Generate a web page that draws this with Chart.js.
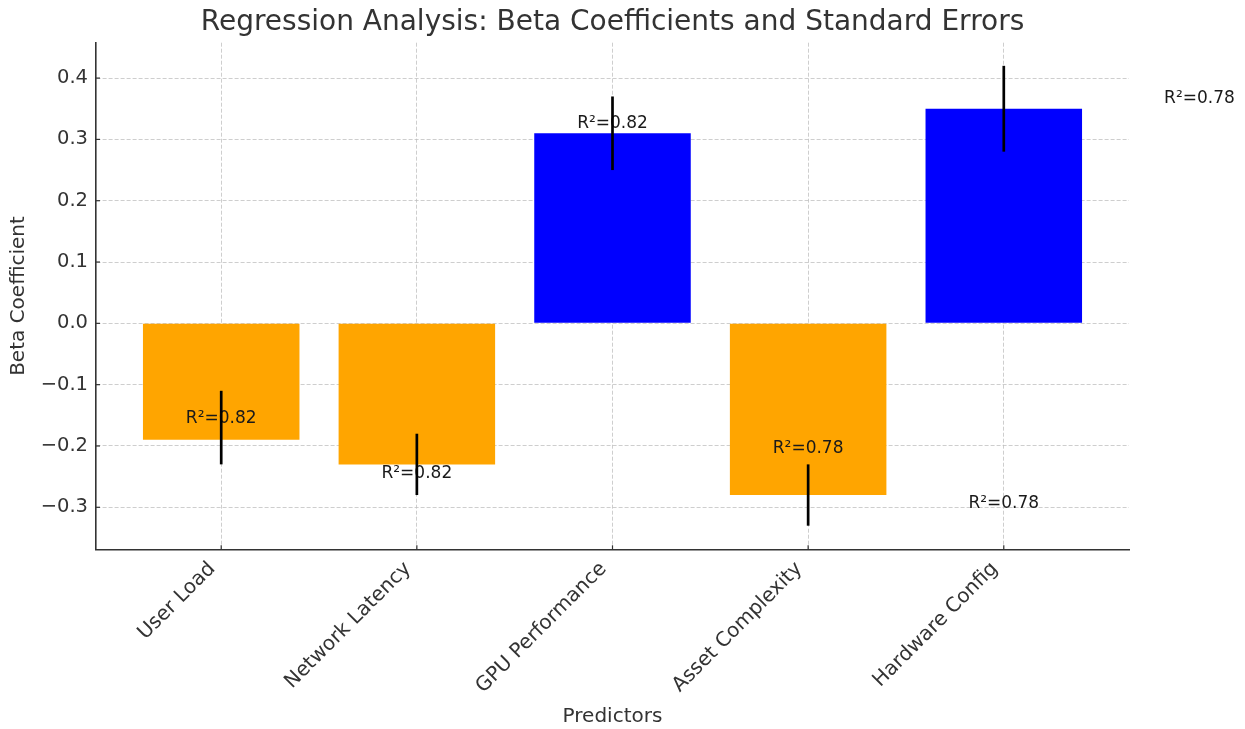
<!DOCTYPE html>
<html><head><meta charset="utf-8">
<script src="https://cdn.jsdelivr.net/npm/chart.js@4.4.0/dist/chart.umd.min.js"></script>
<style>html,body{margin:0;padding:0;background:#fff;}#wrap{width:1245px;height:729px;}</style>
</head><body><div id="wrap"><canvas id="c" width="1245" height="729"></canvas></div>
<script>
const categories = ['User Load', 'Network Latency', 'GPU Performance', 'Asset Complexity', 'Hardware Config'];
const betaValues = [-0.19, -0.23, 0.31, -0.28, 0.35];
const errorLow = [-0.23, -0.28, 0.25, -0.33, 0.28];
const errorHigh = [-0.11, -0.18, 0.37, -0.23, 0.42];
const r2Positions = [0, 1, 2, 3, 4, 5];
const r2Heights = [-0.155, -0.245, 0.326, -0.204, -0.294, 0.366];
const r2Labels = ['R²=0.82', 'R²=0.82', 'R²=0.82', 'R²=0.78', 'R²=0.78', 'R²=0.78'];
const yTickValues = [-0.3, -0.2, -0.1, 0.0, 0.1, 0.2, 0.3, 0.4];
const yTickLabels = ['−0.3', '−0.2', '−0.1', '0.0', '0.1', '0.2', '0.3', '0.4'];

const FONT = '"DejaVu Sans", Verdana, sans-serif';
const GRID = 'rgba(190,190,190,0.75)';

const overlay = {
  id: 'overlay',
  afterDraw(chart) {
    const {ctx, scales: {x, y}, chartArea} = chart;
    ctx.save();
    ctx.strokeStyle = '#333'; ctx.lineWidth = 1.2;
    categories.forEach((c, i) => {
      const px = x.getPixelForValue(i);
      ctx.beginPath(); ctx.moveTo(px, chartArea.bottom); ctx.lineTo(px, chartArea.bottom - 4); ctx.stroke();
    });
    yTickValues.forEach(v => {
      const py = y.getPixelForValue(v);
      ctx.beginPath(); ctx.moveTo(chartArea.left, py); ctx.lineTo(chartArea.left + 4, py); ctx.stroke();
    });
    ctx.font = '17px ' + FONT; ctx.fillStyle = '#1a1a1a';
    ctx.textAlign = 'center'; ctx.textBaseline = 'middle';
    r2Labels.forEach((t, i) => ctx.fillText(t, x.getPixelForValue(r2Positions[i]), y.getPixelForValue(r2Heights[i])));
    ctx.strokeStyle = '#000'; ctx.lineWidth = 2.7; ctx.lineCap = 'butt';
    categories.forEach((c, i) => {
      const px = x.getPixelForValue(i);
      ctx.beginPath(); ctx.moveTo(px, y.getPixelForValue(errorLow[i])); ctx.lineTo(px, y.getPixelForValue(errorHigh[i])); ctx.stroke();
    });
    ctx.restore();
  }
};

new Chart(document.getElementById('c'), {
  type: 'bar',
  data: {
    datasets: [{
      data: categories.map((c, i) => ({x: i, y: betaValues[i]})),
      backgroundColor: betaValues.map(v => v < 0 ? '#FFA500' : '#0000FF'),
      borderWidth: 0,
      barPercentage: 0.8,
      categoryPercentage: 1.0
    }]
  },
  options: {
    responsive: false,
    animation: false,
    devicePixelRatio: 1,
    layout: {padding: {left: 0, right: 116, top: 0, bottom: 0}},
    plugins: {
      legend: {display: false},
      tooltip: {enabled: false},
      title: {
        display: true,
        text: 'Regression Analysis: Beta Coefficients and Standard Errors',
        font: {size: 28, family: FONT, weight: 'normal'},
        color: '#333',
        padding: {top: 5.8, bottom: 3.3},
        fullSize: false
      }
    },
    scales: {
      x: {
        type: 'linear',
        min: -0.64,
        max: 4.64,
        offset: false,
        z: 1,
        afterBuildTicks: s => { s.ticks = categories.map((c, i) => ({value: i})); },
        afterFit: s => { s.height = 179.7; },
        ticks: {
          callback: v => categories[v],
          minRotation: 45, maxRotation: 45, autoSkip: false,
          font: {size: 20, family: FONT}, color: '#333', padding: 8, labelOffset: -9
        },
        grid: {color: GRID, lineWidth: 1, drawTicks: false, offset: false},
        border: {display: true, color: '#333', width: 1.6, dash: [4, 2]},
        title: {display: true, text: 'Predictors', font: {size: 20, family: FONT}, color: '#333', padding: {top: 0, bottom: 0}}
      },
      y: {
        type: 'linear',
        min: -0.3685,
        max: 0.4577,
        z: 1,
        afterBuildTicks: s => { s.ticks = yTickValues.map(v => ({value: v})); },
        afterFit: s => { s.width = 96; },
        ticks: {
          callback: (v, i) => yTickLabels[i],
          font: {size: 19.5, family: FONT}, color: '#333', padding: 8
        },
        grid: {color: GRID, lineWidth: 1, drawTicks: false},
        border: {display: true, color: '#333', width: 1.6, dash: [4, 2]},
        title: {display: true, text: 'Beta Coefficient', font: {size: 20, family: FONT}, color: '#333', padding: {top: 7, bottom: 0}}
      }
    }
  },
  plugins: [overlay]
});
</script>
</body></html>
